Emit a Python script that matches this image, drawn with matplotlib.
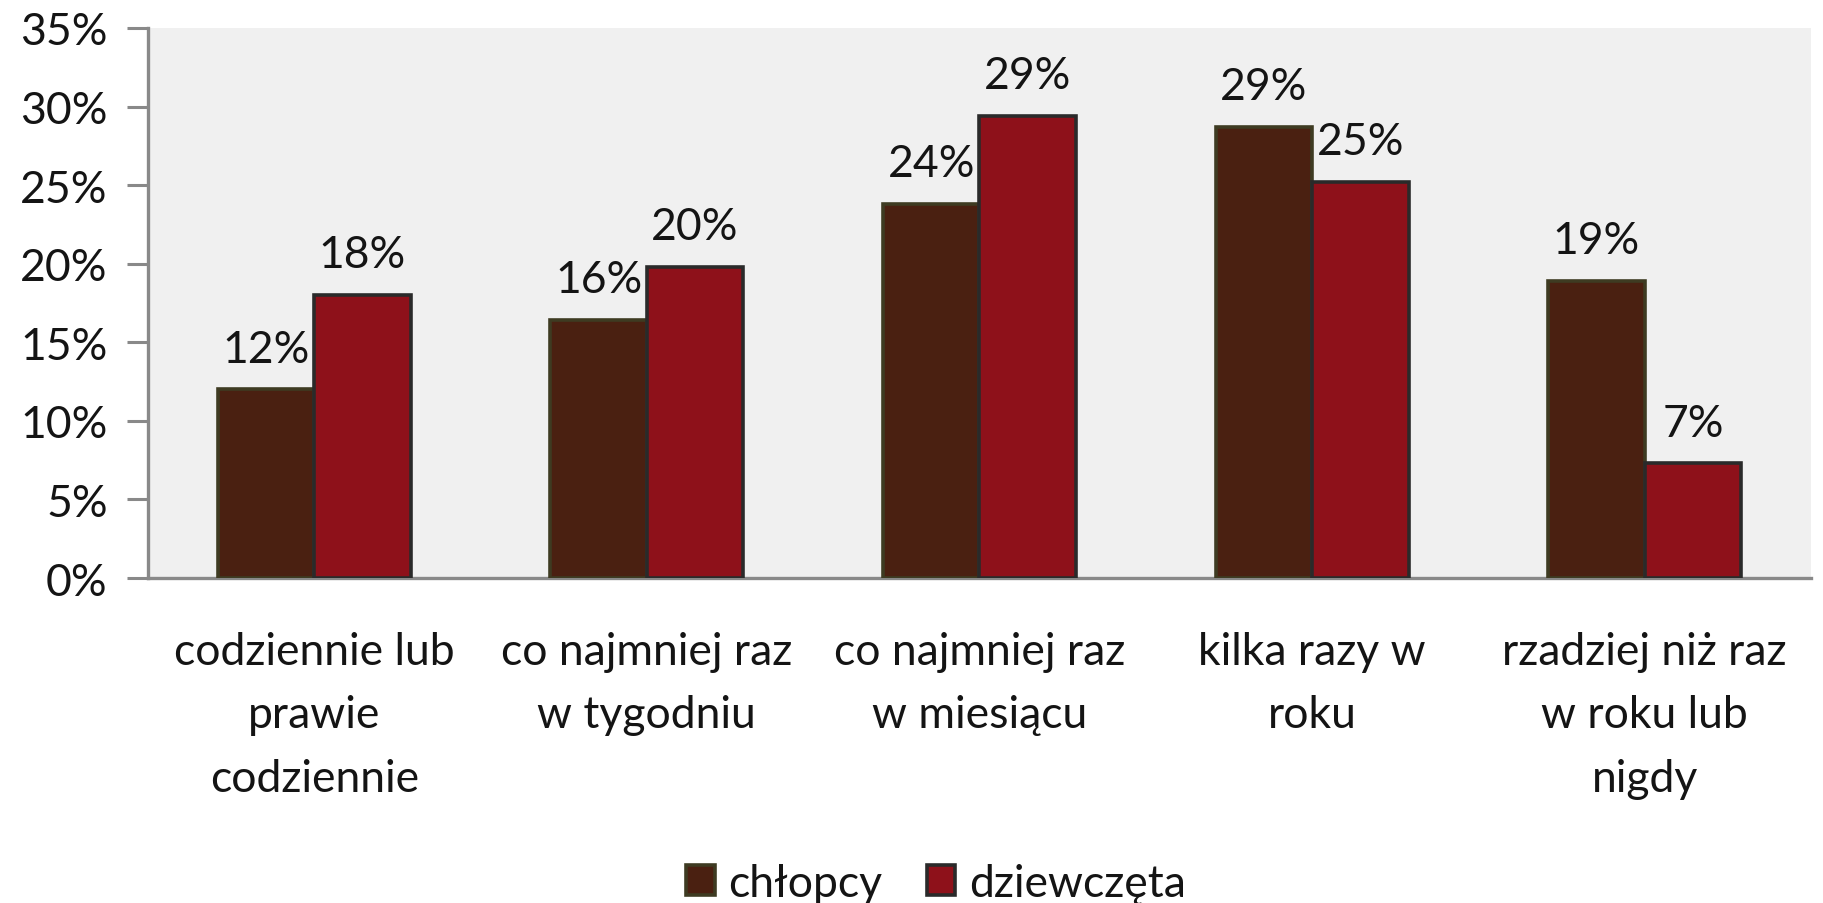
import matplotlib
matplotlib.use("Agg")
import matplotlib.pyplot as plt
import numpy as np
from matplotlib.patches import Patch

# category labels (x axis)
categories = [
    "codziennie lub\nprawie\ncodziennie",
    "co najmniej raz\nw tygodniu",
    "co najmniej raz\nw miesiącu",
    "kilka razy w\nroku",
    "rzadziej niż raz\nw roku lub\nnigdy",
]
series_names = ["chłopcy", "dziewczęta"]
# percentages
boys = [12.0, 16.4, 23.8, 28.7, 18.9]
girls = [18.0, 19.8, 29.4, 25.2, 7.3]

yticks = [0, 5, 10, 15, 20, 25, 30, 35]

plt.rcParams["font.family"] = ["Lato", "DejaVu Sans"]
FS = 32
TXT = "#141414"

fig = plt.figure(figsize=(18.24, 9.04), dpi=100)
ax = fig.add_axes([0.0811, 0.3595, 0.9118, 0.6085])

x = np.arange(len(categories))
w = 0.29
fills = ["#4A2011", "#8E111A"]
edges = ["#3E3B22", "#2A2A2A"]

for i, (vals, fc, ec) in enumerate(zip([boys, girls], fills, edges)):
    pos = x + (i - 0.5) * w
    ax.bar(pos, vals, w, color=fc, edgecolor=ec, linewidth=2.6, zorder=3)
    for xp, v in zip(pos, vals):
        ax.annotate(f"{v:.0f}%", (xp, v), xytext=(0, 20), textcoords="offset points",
                    ha="center", va="baseline", fontsize=FS, color=TXT, zorder=4)

ax.set_facecolor("#F0F0F0")
ax.set_xlim(-0.5, len(categories) - 0.5)
ax.set_ylim(0, 35)
ax.set_yticks(yticks)
ax.set_yticklabels([f"{t}%" for t in yticks], fontsize=FS, color=TXT)
ax.set_xticks(x)
ax.set_xticklabels(categories, fontsize=FS, color=TXT, linespacing=1.68)
ax.tick_params(axis="x", length=0, pad=38)
ax.tick_params(axis="y", length=15, width=2.2, color="#898989", pad=14)

for s in ["top", "right"]:
    ax.spines[s].set_visible(False)
for s in ["left", "bottom"]:
    ax.spines[s].set_color("#898989")
    ax.spines[s].set_linewidth(2.4)

handles = [Patch(facecolor=fc, edgecolor=ec, linewidth=2.6, label=n)
           for n, fc, ec in zip(series_names, fills, edges)]
fig.legend(handles=handles, loc="center", bbox_to_anchor=(0.513, 0.022), ncol=2,
           frameon=False, fontsize=FS, handlelength=0.65, handleheight=0.65,
           handletextpad=0.3, columnspacing=1.0, labelcolor=TXT)

fig.savefig("out.png", dpi=100, facecolor="white")
